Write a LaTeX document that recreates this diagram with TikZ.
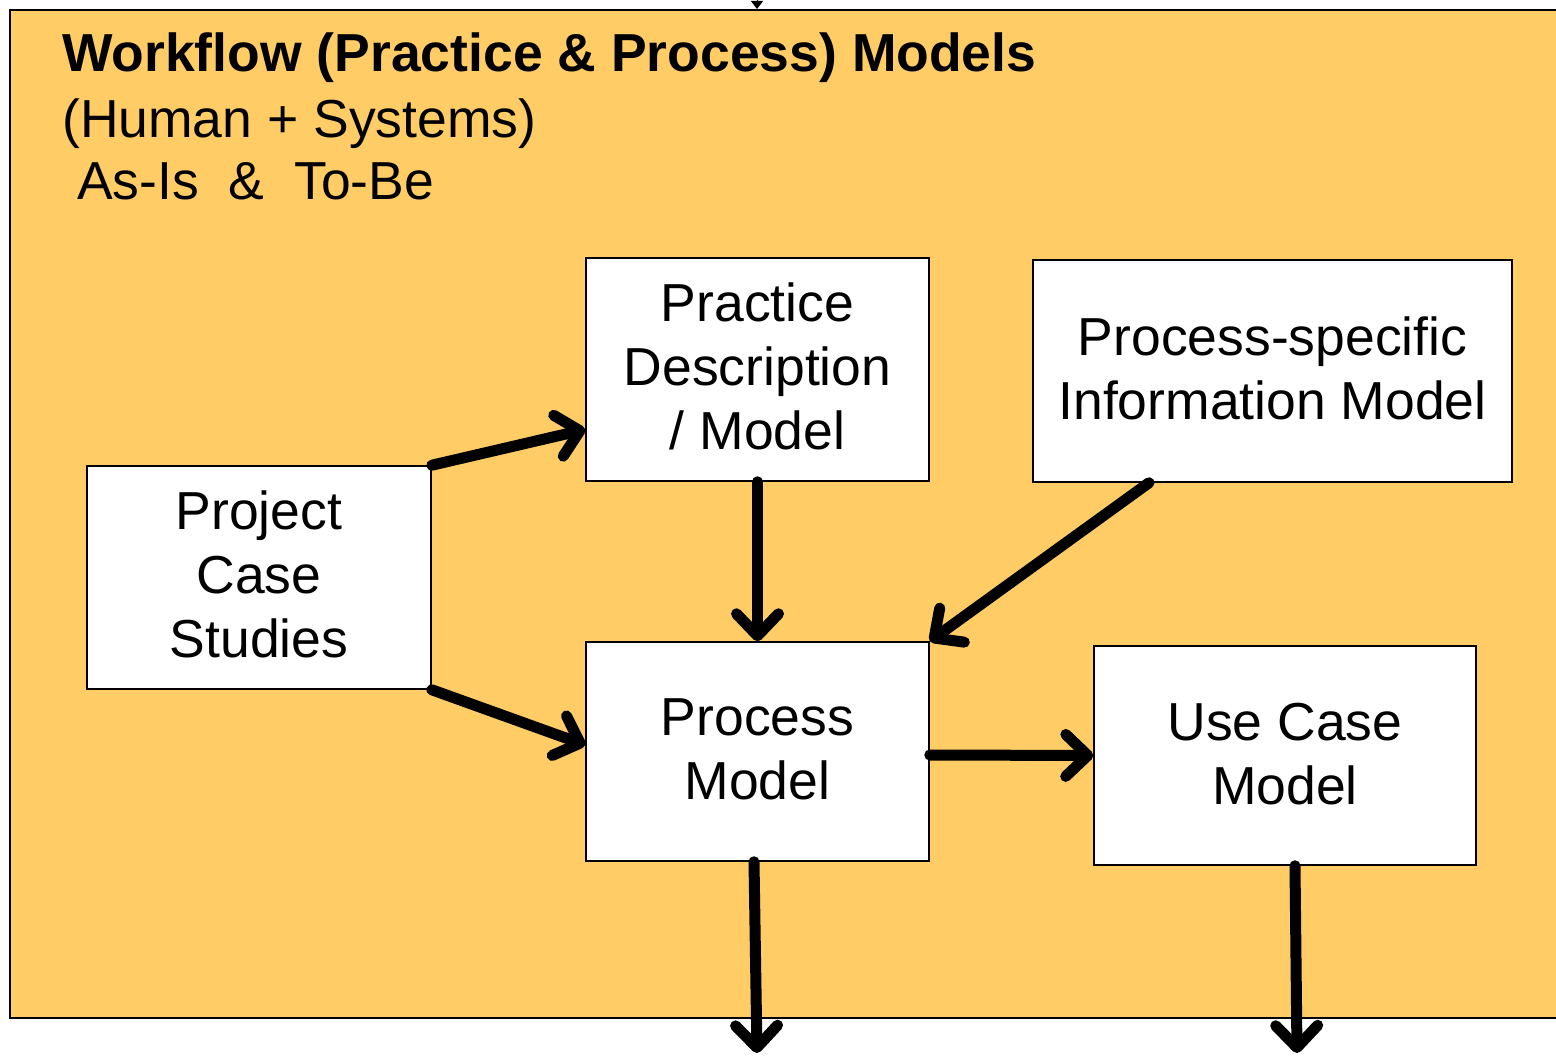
\documentclass[tikz,border=0pt]{standalone}
\usepackage{fontspec}
\setmainfont{Liberation Sans}
\usetikzlibrary{arrows.meta}
\definecolor{bgorange}{RGB}{255,204,102}
\begin{document}
\begin{tikzpicture}[x=1pt,y=-1pt,
  box/.style={draw=black, line width=1.5pt, fill=white, inner sep=0pt, align=center,
    font=\fontsize{53.5}{64}\selectfont},
  boxtext/.style={anchor=center, inner sep=0pt, align=center, font=\fontsize{53.5}{64}\selectfont},
  arr/.style={line width=11pt, line cap=round, line join=round,
    -{Straight Barb[length=22pt,width=42pt,line width=11pt,round]}},
  title/.style={anchor=base west, inner sep=0pt, font=\fontsize{53.5}{64}\selectfont}]
\useasboundingbox (0,0) rectangle (1556,1056);
\fill[bgorange] (10,10) rectangle (1556,1018);
\draw[line width=2pt] (1556,10) -- (10,10) -- (10,1018) -- (1556,1018);
\node[title, font=\bfseries\fontsize{53.5}{64}\selectfont] (t1) at (62,72) {Workflow (Practice \& Process) Models};
\node[title] (t2) at (62,138) {(Human + Systems)};
\node[title] (t3) at (77,200) {As-Is\ \ \&\ \ To-Be};
\node[box, minimum width=343pt, minimum height=223pt] (pd) at (757.5,369.5) {};
\node[box, minimum width=479pt, minimum height=222pt] (psi) at (1272.5,371) {};
\node[box, minimum width=344pt, minimum height=223pt] (pcs) at (259,577.5) {};
\node[box, minimum width=343pt, minimum height=219pt] (pm) at (757.5,751.5) {};
\node[box, minimum width=382pt, minimum height=219pt] (uc) at (1285,755.5) {};
\node[boxtext] (pdt) at ([yshift=3pt]pd.center) {Practice\\Description\\/ Model};
\node[boxtext] (psit) at ([yshift=3pt]psi.center) {Process-specific\\Information Model};
\node[boxtext] (pcst) at ([yshift=3pt]pcs.center) {Project\\Case\\Studies};
\node[boxtext] (pmt) at ([yshift=2pt]pm.center) {Process\\Model};
\node[boxtext] (uct) at ([yshift=1pt]uc.center) {Use Case\\Model};
\coordinate (in0) at (757,-20);
\coordinate (in1) at (757,9);
\coordinate (out1) at (757,1053);
\coordinate (out2) at (1297,1053);
\draw[line width=1pt, -{Triangle[length=8pt,width=12pt]}] (in0) -- (in1);
\draw[arr] (pcs.north east) -- ([yshift=-60pt]pd.west);
\draw[arr] (pcs.south east) -- ([yshift=6.5pt]pm.west);
\draw[arr] (pd.south) -- (pm.north);
\draw[arr] ([xshift=-123.5pt]psi.south) -- (pm.north east);
\draw[arr] ([yshift=-3.5pt]pm.east) -- (uc.west);
\draw[arr] ([xshift=-3.5pt]pm.south) -- (out1);
\draw[arr] ([xshift=10pt]uc.south) -- (out2);
\end{tikzpicture}
\end{document}
